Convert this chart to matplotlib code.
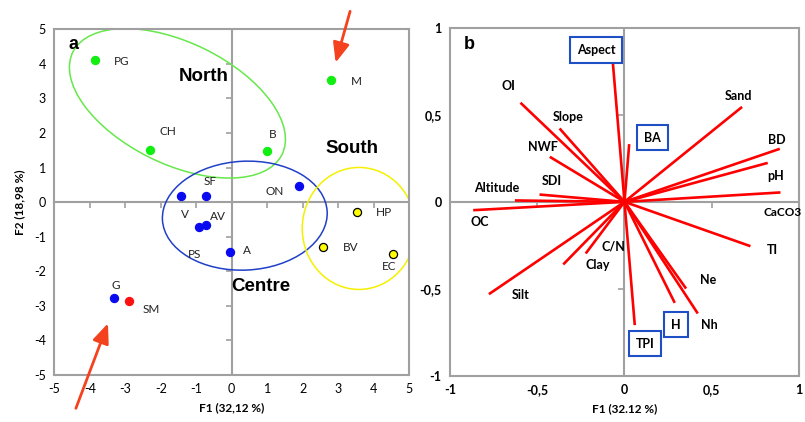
import matplotlib.pyplot as plt
import numpy as np
from matplotlib.patches import Ellipse

# --- panel a : site scores ---
sites = ['PG', 'CH', 'B', 'M', 'SF', 'V', 'AV', 'AV2', 'A', 'ON', 'HP', 'BV', 'EC', 'G', 'SM']
f1 = [-3.86, -2.30, 0.99, 2.81, -0.71, -1.44, -0.73, -0.91, -0.05, 1.91, 3.54, 2.58, 4.56, -3.33, -2.90]
f2 = [4.10, 1.50, 1.49, 3.53, 0.17, 0.19, -0.67, -0.73, -1.44, 0.48, -0.28, -1.29, -1.50, -2.76, -2.86]
groups = ['n', 'n', 'n', 'n', 'c', 'c', 'c', 'c', 'c', 'c', 's', 's', 's', 'c', 'x']

# label text and where it sits
lab_txt = ['PG', 'CH', 'B', 'M', 'SF', 'V', 'AV', 'PS', 'A', 'ON', 'HP', 'BV', 'EC', 'G', 'SM']
lab_x = [-3.10, -1.80, 1.16, 3.52, -0.61, -1.33, -0.38, -1.06, 0.44, 1.22, 4.30, 3.36, 4.43, -3.28, -2.28]
lab_y = [4.08, 2.05, 1.97, 3.50, 0.59, -0.35, -0.40, -1.51, -1.39, 0.30, -0.31, -1.32, -1.87, -2.40, -3.10]

regions = ['North', 'South', 'Centre']
reg_x = [-0.80, 3.40, 0.83]
reg_y = [3.65, 1.55, -2.43]

# ellipses: centre x, centre y, width, height, angle
ell_x = [-1.53, 0.37, 3.59]
ell_y = [2.86, -0.39, -0.76]
ell_w = [6.6, 4.65, 3.20]
ell_h = [3.5, 3.15, 3.53]
ell_a = [-27, 3, 0]
ell_c = ['#66e84a', '#2040c8', '#f5f000']

# --- panel b : variable loadings ---
vars_ = ['Aspect', 'OI', 'Slope', 'NWF', 'SDI', 'Altitude', 'OC', 'Silt', 'Clay', 'C/N',
         'TPI', 'H', 'Nh', 'Ne', 'TI', 'CaCO3', 'pH', 'BD', 'Sand', 'BA']
ld1 = [-0.067, -0.596, -0.372, -0.428, -0.487, -0.628, -0.867, -0.777, -0.351, -0.222,
       0.059, 0.288, 0.420, 0.353, 0.722, 0.894, 0.821, 0.890, 0.674, 0.027]
ld2 = [0.805, 0.570, 0.422, 0.259, 0.042, 0.008, -0.048, -0.531, -0.360, -0.297,
       -0.709, -0.581, -0.642, -0.499, -0.255, 0.054, 0.224, 0.305, 0.546, 0.332]
vx = [-0.162, -0.663, -0.325, -0.466, -0.415, -0.730, -0.829, -0.596, -0.155, -0.061,
      0.117, 0.296, 0.489, 0.481, 0.850, 0.795, 0.869, 0.875, 0.655, 0.162]
vy = [0.872, 0.665, 0.487, 0.313, 0.119, 0.081, -0.115, -0.537, -0.364, -0.255,
      -0.815, -0.706, -0.709, -0.451, -0.278, -0.063, 0.150, 0.355, 0.608, 0.370]
boxed = ['Aspect', 'BA', 'TPI', 'H']

BODY = ['Lato', 'DejaVu Sans']
NARROW = ['Liberation Sans Narrow', 'Liberation Sans', 'DejaVu Sans']
GREY = '#a0a0a0'

fig = plt.figure(figsize=(8.05, 4.22), dpi=100)
axa = fig.add_axes([0.0675, 0.1114, 0.4406, 0.819])
axb = fig.add_axes([0.559, 0.1097, 0.4335, 0.824])


def frame(ax, ticks, fmt, bold, tick_len):
    ax.set_xlim(ticks[0], ticks[-1])
    ax.set_ylim(ticks[0], ticks[-1])
    ax.set_xticks(ticks)
    ax.set_yticks(ticks)
    ax.set_xticklabels([fmt(t) for t in ticks])
    ax.set_yticklabels([fmt(t) for t in ticks])
    ax.tick_params(length=0, pad=6, labelsize=9)
    for lab in ax.get_xticklabels() + ax.get_yticklabels():
        lab.set_family(BODY)
        if bold:
            lab.set_fontweight('bold')
    for s in ax.spines.values():
        s.set_color(GREY)
        s.set_linewidth(1.5)
    ax.axhline(0, color=GREY, lw=1.5, zorder=1)
    ax.axvline(0, color=GREY, lw=1.5, zorder=1)
    # little ticks on the cross lines
    inner = ticks[1:-1]
    ax.plot(inner, np.zeros(len(inner)), ls='none', marker=3, ms=tick_len, mew=1.2, color=GREY, zorder=1)
    ax.plot(np.zeros(len(inner)), inner, ls='none', marker=0, ms=tick_len, mew=1.2, color=GREY, zorder=1)


def fmt_a(t):
    return '%d' % t


def fmt_b(t):
    if t == int(t):
        return '%d' % t
    return ('%.1f' % t).replace('.', ',')


# ---------- panel a ----------
frame(axa, np.arange(-5, 6, 1), fmt_a, False, 4)

for x, y, w, h, a, c in zip(ell_x, ell_y, ell_w, ell_h, ell_a, ell_c):
    axa.add_patch(Ellipse((x, y), w, h, angle=a, fill=False, ec=c, lw=1.1, zorder=2))

col = {'n': '#11ee11', 'c': '#0a0af0', 's': '#ffff00', 'x': '#ff1010'}
for x, y, g in zip(f1, f2, groups):
    ec = 'black' if g == 's' else col[g]
    axa.scatter(x, y, s=34, color=col[g], edgecolor=ec, linewidth=0.9, zorder=4)

for t, x, y in zip(lab_txt, lab_x, lab_y):
    axa.text(x, y, t, ha='center', va='center', fontsize=8.5, family=BODY, color='#222222', zorder=5)

for t, x, y in zip(regions, reg_x, reg_y):
    axa.text(x, y, t, ha='center', va='center', fontsize=13.5, fontweight='bold', family=NARROW, zorder=5)

axa.text(-4.45, 4.56, 'a', ha='center', va='center', fontsize=13, fontweight='bold', family=NARROW)

arrow = dict(arrowstyle='-|>,head_length=1.2,head_width=0.5', color='#f5421e', lw=2.0)
axa.annotate('', xy=(2.91, 3.96), xytext=(3.36, 5.60), arrowprops=arrow, annotation_clip=False)
axa.annotate('', xy=(-3.46, -3.43), xytext=(-4.42, -6.04), arrowprops=arrow, annotation_clip=False)

axa.set_xlabel('F1 (32,12 %)', fontsize=8.5, fontweight='bold', family=BODY, labelpad=5)
axa.set_ylabel('F2 (18,98 %)', fontsize=8.5, fontweight='bold', family=BODY, labelpad=6)

# ---------- panel b ----------
frame(axb, np.arange(-1, 1.01, 0.5), fmt_b, True, 4)

for x, y in zip(ld1, ld2):
    axb.plot([0, x], [0, y], color='#ff0000', lw=1.9, solid_capstyle='butt', zorder=3)

for t, x, y in zip(vars_, vx, vy):
    kw = dict(fontsize=9, fontweight='bold', family=BODY, va='center', zorder=5)
    if t in boxed:
        kw['bbox'] = dict(boxstyle='square,pad=0.55', fc='white', ec='#1f4fc4', lw=1.5)
    if t == 'CaCO3':
        kw['fontsize'] = 8.5
        axb.text(x, y, t, ha='left', clip_on=False, **kw)
    else:
        axb.text(x, y, t, ha='center', **kw)

axb.text(-0.888, 0.905, 'b', ha='center', va='center', fontsize=13, fontweight='bold', family=NARROW)
axb.set_xlabel('F1 (32.12 %)', fontsize=8.5, fontweight='bold', family=BODY, labelpad=5)

fig.savefig('out.png', dpi=100)
